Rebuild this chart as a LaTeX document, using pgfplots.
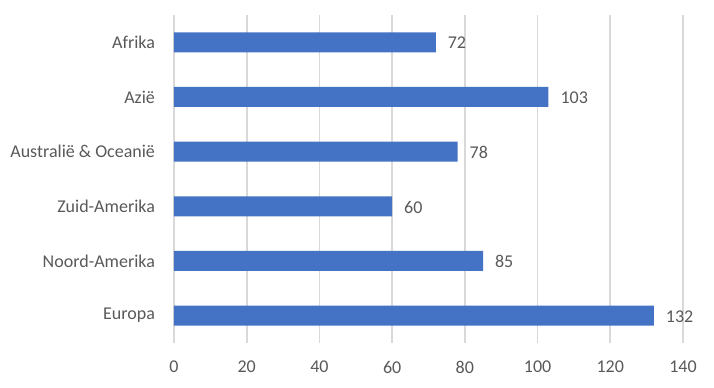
\documentclass[border=0pt]{standalone}
\usepackage{pgfplots}
\pgfplotsset{compat=1.18}
\usepackage{fontspec}
\setmainfont{Carlito}
\definecolor{barblue}{HTML}{4472C4}
\definecolor{txtgray}{HTML}{595959}
\definecolor{gridgray}{HTML}{D9D9D9}
\begin{document}
\begin{tikzpicture}
\path[use as bounding box] (0,0) rectangle (535.5pt,291pt);
\begin{axis}[
  at={(130.5pt,33.75pt)}, anchor=south west,
  scale only axis, width=381.75pt, height=246pt,
  xbar, bar width=15pt,
  xmin=0, xmax=140, ymin=-0.5, ymax=5.5,
  enlargelimits=false, clip=false,
  xtick={0,20,...,140},
  ytick={0,1,2,3,4,5},
  yticklabels={Europa,Noord-Amerika,Zuid-Amerika,Australië \& Oceanië,Azië,Afrika},
  axis line style={draw=none},
  major tick style={draw=none},
  xmajorgrids, ymajorgrids=false,
  major grid style={draw=gridgray, line width=1.2pt},
  /pgf/number format/assume math mode=true,
  ticklabel style={font=\fontsize{13.5}{15}\selectfont, text=txtgray},
  xticklabel style={yshift=-10pt},
  yticklabel style={xshift=-6.5pt},
  nodes near coords,
  nodes near coords style={anchor=west, xshift=5.5pt, yshift=-0.5pt, font=\fontsize{13.5}{15}\selectfont, text=txtgray, /pgf/number format/assume math mode=true},
]
\addplot[fill=barblue, draw=none] coordinates {
  (132,0) (85,1) (60,2) (78,3) (103,4) (72,5)
};
\end{axis}
\end{tikzpicture}
\end{document}
